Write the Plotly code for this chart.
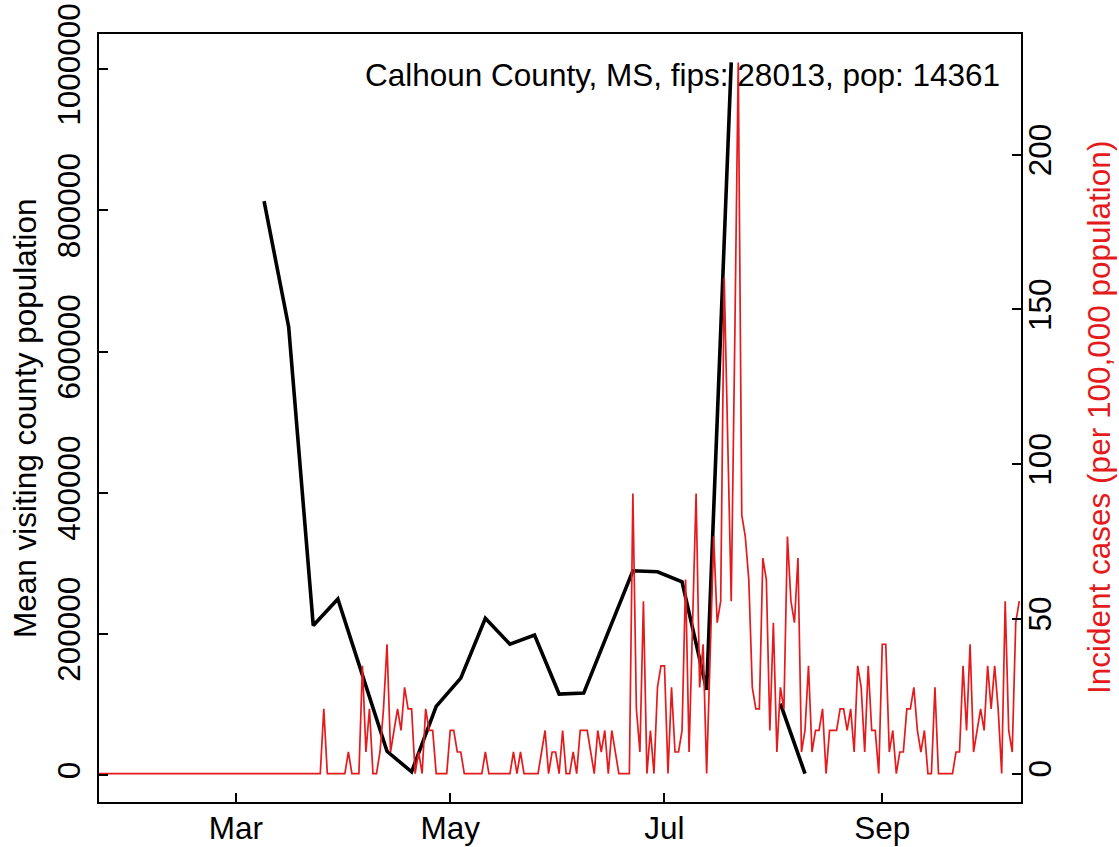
import pandas as pd
import plotly.graph_objects as go

# ---------------- data ----------------
COUNTY_LABEL = "Calhoun County, MS, fips: 28013, pop: 14361"
POP = 14361
CASE_START = "2020-01-22"

# daily incident case counts, one per day from CASE_START
daily_cases = (
    [0] * 64 +
    [3, 0, 0, 0, 0, 0, 0, 1, 0, 0, 0, 5, 1, 3, 0, 0, 1, 3, 6, 1,   # d64-83
     2, 3, 2, 4, 3, 3, 0, 1, 0, 3, 2, 2, 0, 0, 0, 0, 2, 2, 1, 1,   # d84-103
     0, 0, 0, 0, 0, 0, 1, 0, 0, 0, 0, 0, 0, 0, 1, 0, 1, 0, 0, 0,   # d104-123
     0, 0, 1, 2, 0, 1, 1, 0, 2, 0, 0, 1, 0, 2, 2, 2, 1, 0, 2, 1,   # d124-143
     2, 0, 2, 1, 0, 0, 0, 0, 13, 3, 1, 8, 0, 2, 0, 4, 5, 5, 0, 4,  # d144-163
     1, 1, 2, 9, 1, 7, 13, 4, 6, 0, 5, 11, 7, 8, 23, 16, 8, 20, 33, 12,  # d164-183
     11, 9, 4, 3, 3, 10, 9, 2, 7, 1, 4, 3, 11, 8, 7, 10, 1, 2, 5, 1,  # d184-203
     2, 2, 3, 0, 2, 2, 2, 3, 3, 2, 3, 1, 5, 4, 1, 5, 2, 2, 0, 6,   # d204-223
     6, 1, 2, 0, 1, 1, 3, 3, 4, 2, 1, 2, 0, 0, 4, 0, 0, 0, 0, 0,   # d224-243
     1, 1, 5, 2, 6, 1, 2, 3, 2, 5, 3, 5, 3, 0, 8, 2, 1, 7, 8]      # d244-262
)
incidence = [c * 100000 / POP for c in daily_cases]
case_dates = pd.date_range(CASE_START, periods=len(daily_cases), freq="D")

# weekly mean visiting county population (None = missing week)
week_dates = pd.date_range("2020-03-09", periods=23, freq="7D")
visit_pop = [813000, 635000, 212000, 249600, 141800, 33900, 4800, 97500,
             137500, 222300, 185600, 198700, 115000, 116400, 203000, 289600,
             288100, 274000, 121000, 1009500, None, 101300, 2400]

x_tick_vals = ["2020-03-01", "2020-05-01", "2020-07-01", "2020-09-01"]
x_tick_text = ["Mar", "May", "Jul", "Sep"]
left_ticks = [0, 200000, 400000, 600000, 800000, 1000000]
right_ticks = [0, 50, 100, 150, 200]

# ---------------- style ----------------
FONT = "Liberation Sans, Arial, Helvetica, sans-serif"
FS = 31.5
RED = "#E41A1C"

def r_range(vals):
    v = [x for x in vals if x is not None]
    lo, hi = min(v), max(v)
    ext = 0.04 * (hi - lo)
    return [lo - ext, hi + ext]

fig = go.Figure()
fig.add_trace(go.Scatter(x=case_dates, y=incidence, mode="lines",
                         line=dict(color=RED, width=1.7), yaxis="y2",
                         showlegend=False, hoverinfo="skip"))
fig.add_trace(go.Scatter(x=week_dates, y=visit_pop, mode="lines",
                         line=dict(color="black", width=3.6), connectgaps=False,
                         showlegend=False, hoverinfo="skip"))

axis_common = dict(showgrid=False, zeroline=False, showline=True,
                   linecolor="black", linewidth=1.8, ticks="inside",
                   ticklen=9, tickwidth=1.6, tickcolor="black",
                   automargin=False,
                   tickfont=dict(family=FONT, size=FS, color="black"))

fig.update_layout(
    width=1119, height=847, autosize=False,
    margin=dict(l=99, r=98, t=34, b=45, pad=0),
    paper_bgcolor="white", plot_bgcolor="white",
    xaxis=dict(range=["2020-01-22", "2020-10-10 12:00"], type="date",
               tickvals=x_tick_vals, ticktext=x_tick_text, mirror=True,
               ticklabelstandoff=-3, **axis_common),
    yaxis=dict(range=r_range(visit_pop), tickvals=left_ticks,
               ticktext=[str(t) for t in left_ticks], tickangle=-90,
               ticklabelstandoff=5, **axis_common),
    yaxis2=dict(range=r_range(incidence), tickvals=right_ticks,
                ticktext=[str(t) for t in right_ticks], tickangle=-90,
                overlaying="y", side="right", ticklabelstandoff=-10,
                **axis_common),
    annotations=[
        dict(text=COUNTY_LABEL, xref="paper", yref="paper",
             x=(1002 - 99) / 922, y=(802 - 75) / 768, xanchor="right",
             yanchor="middle", showarrow=False,
             font=dict(family=FONT, size=FS, color="black")),
        dict(text="Mean visiting county population", xref="paper",
             yref="paper", x=(25 - 99) / 922, y=0.5, textangle=-90,
             xanchor="center", yanchor="middle", showarrow=False,
             font=dict(family=FONT, size=FS, color="black")),
        dict(text="Incident cases (per 100,000 population)", xref="paper",
             yref="paper", x=(1099 - 99) / 922, y=0.5, textangle=-90,
             xanchor="center", yanchor="middle", showarrow=False,
             font=dict(family=FONT, size=FS, color=RED)),
    ],
)

fig.write_html("out.html", config={"displayModeBar": False},
               post_script="document.body.style.margin='0px';")
